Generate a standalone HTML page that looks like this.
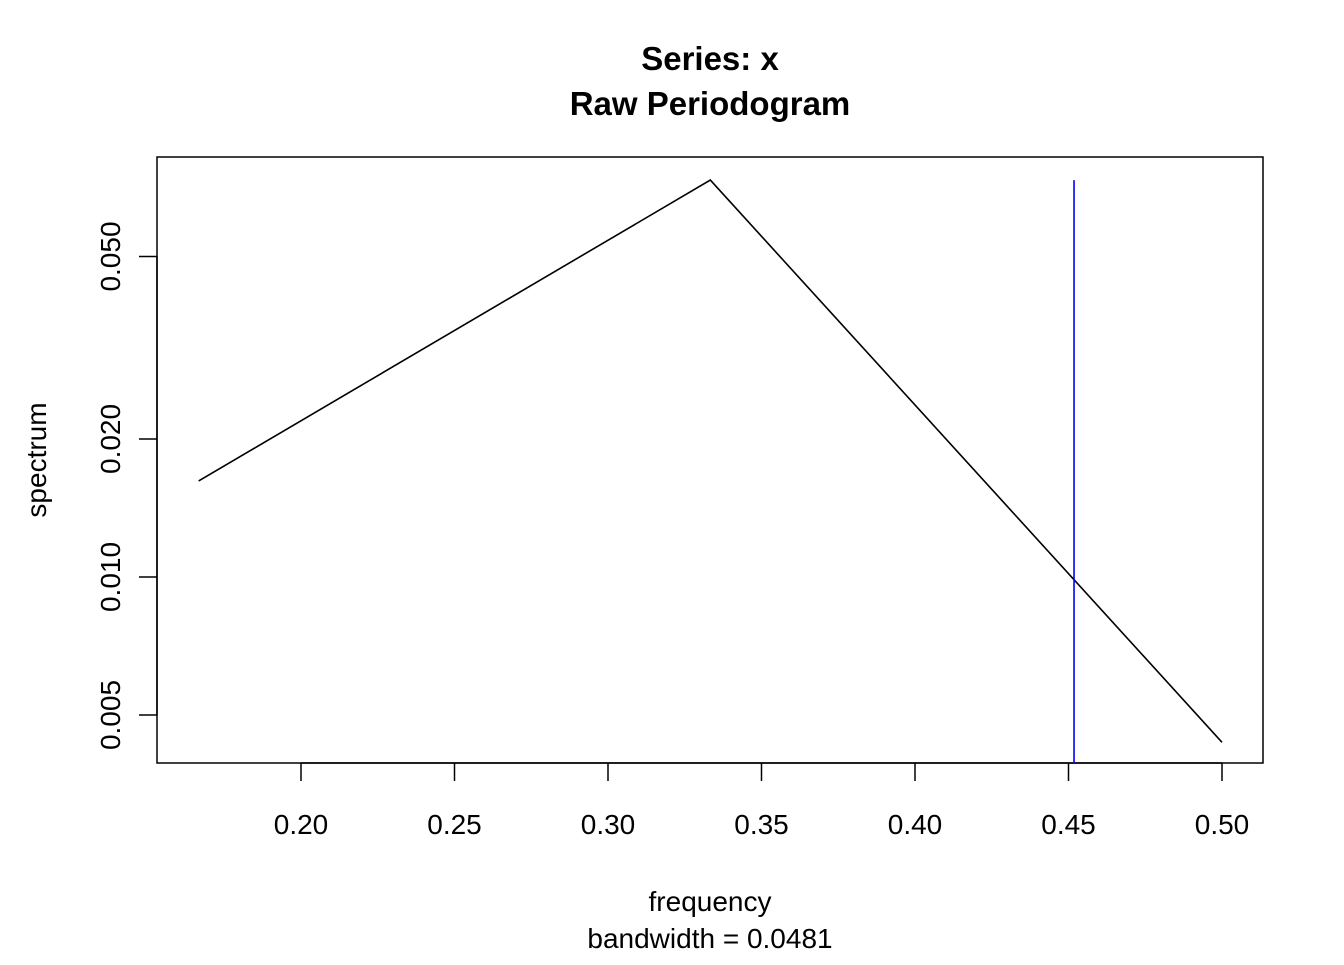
<!DOCTYPE html>
<html><head><meta charset="utf-8"><style>
body{margin:0;background:#fff}
text{font-family:"Liberation Sans",Arial,sans-serif}
</style></head><body>
<svg id="chart" width="1344" height="960" xmlns="http://www.w3.org/2000/svg">
<text x="710" y="70" text-anchor="middle" font-size="33" font-weight="bold">Series: x</text>
<text x="710" y="115" text-anchor="middle" font-size="33" font-weight="bold">Raw Periodogram</text>
<rect x="157" y="157" width="1106" height="606" fill="none" stroke="#000" stroke-width="1.5"/>
<g id="xaxis"></g>
<g id="yaxis"></g>
<g id="marks"></g>
<text x="710" y="911" text-anchor="middle" font-size="28">frequency</text>
<text x="710" y="948" text-anchor="middle" font-size="28">bandwidth = 0.0481</text>
<text transform="translate(46,460) rotate(-90)" text-anchor="middle" font-size="28">spectrum</text>
</svg>
<script>
const freqs=[1/6,1/3,0.5];
const spec=[0.0162,0.0734,0.00436];
const xTicks=[0.20,0.25,0.30,0.35,0.40,0.45,0.50];
const xTickLabels=["0.20","0.25","0.30","0.35","0.40","0.45","0.50"];
const yTicks=[0.005,0.010,0.020,0.050];
const yTickLabels=["0.005","0.010","0.020","0.050"];
const bwFreq=0.4518;
const NS="http://www.w3.org/2000/svg";
function X(f){return 301+(f-0.2)*3070;}
function Y(v){return 577-(Math.log10(v)+2)*458.5;}
function mk(t,a,p){const e=document.createElementNS(NS,t);for(const k in a)e.setAttribute(k,a[k]);p.appendChild(e);return e;}
const xa=document.getElementById('xaxis'),ya=document.getElementById('yaxis'),m=document.getElementById('marks');
mk('line',{x1:X(xTicks[0]),x2:X(xTicks[xTicks.length-1]),y1:763,y2:763,stroke:'#000','stroke-width':1.5},xa);
xTicks.forEach((t,i)=>{
 const l=mk('line',{x1:X(t),x2:X(t),y1:763,y2:781,stroke:'#000','stroke-width':1.5},xa);
 
 
 const tx=mk('text',{x:X(t),y:834,'text-anchor':'middle','font-size':28},xa);
 tx.textContent=xTickLabels[i];
 
 
});
mk('line',{x1:157,x2:157,y1:Y(yTicks[0]),y2:Y(yTicks[yTicks.length-1]),stroke:'#000','stroke-width':1.5},ya);
yTicks.forEach((t,i)=>{
 const l=mk('line',{x1:139,x2:157,y1:Y(t),y2:Y(t),stroke:'#000','stroke-width':1.5},ya);
 
 
 const tx=mk('text',{transform:`translate(120,${Y(t)}) rotate(-90)`,'text-anchor':'middle','font-size':28},ya);
 tx.textContent=yTickLabels[i];
 
 
});
const pts=freqs.map((f,i)=>X(f)+','+Y(spec[i])).join(' ');
const pl=mk('polyline',{points:pts,fill:'none',stroke:'#000','stroke-width':1.6},m);


const bw=mk('line',{x1:X(bwFreq),x2:X(bwFreq),y1:Y(Math.max(...spec)),y2:763,stroke:'#0000ff','stroke-width':1.6},m);


</script>
</body></html>
